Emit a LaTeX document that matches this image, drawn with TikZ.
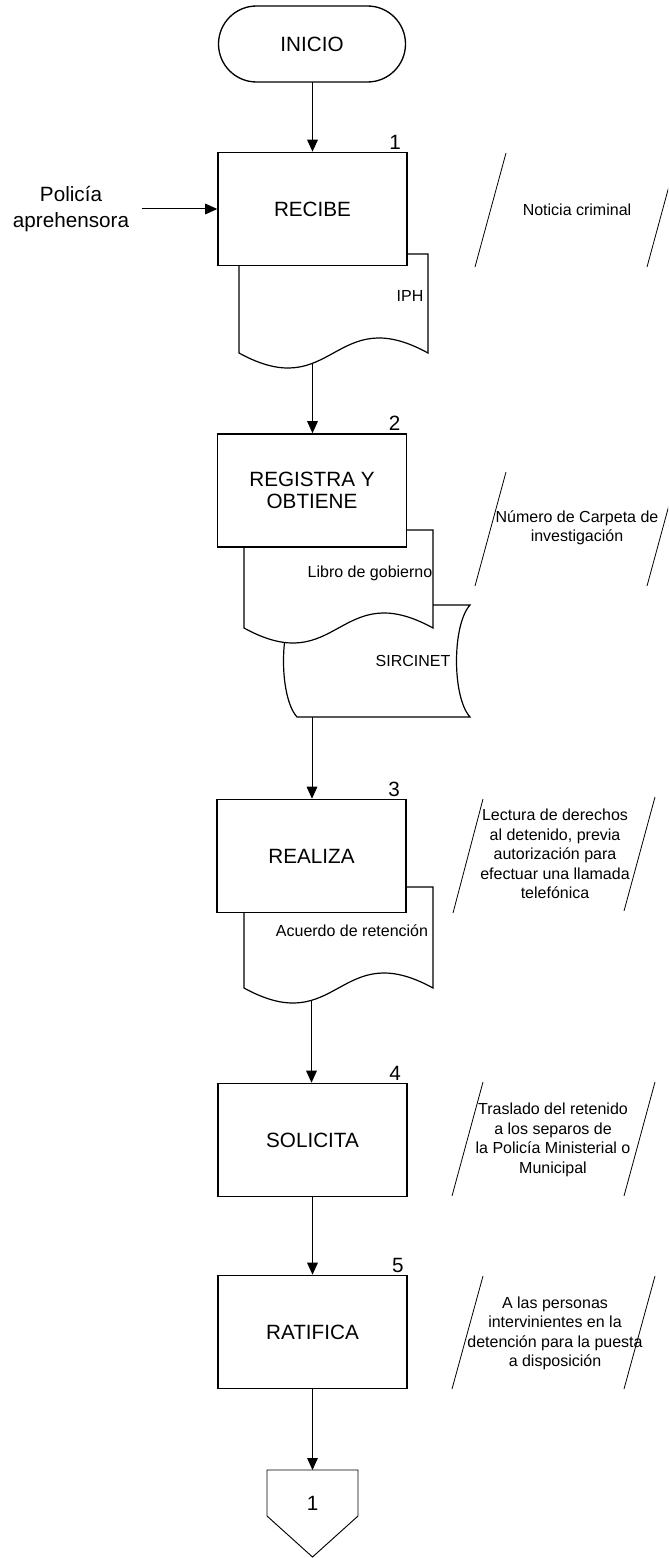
\documentclass[tikz,border=0pt]{standalone}
\usepackage{fontspec}
\setmainfont{Liberation Sans}
\usetikzlibrary{arrows.meta,backgrounds}
\newcommand{\docshape}[4]{%
  \path[docst] (#1,#4) -- (#1,#2) -- (#3,#2) -- (#3,#4)
    .. controls ({(#1+#3)/2},{#4-52}) and ({(#1+#3)/2},{#4+52}) .. (#1,#4) -- cycle;}
\begin{document}
\begin{tikzpicture}[x=0.75pt,y=-0.75pt,
  proc/.style={draw,line width=1.2pt,fill=white,minimum width=141.75pt,minimum height=84.75pt,inner sep=0pt,align=center,font=\fontsize{15.5}{16.5}\selectfont},
  term/.style={draw,line width=1pt,fill=white,rounded corners=28.5pt,minimum width=140.25pt,minimum height=57pt,font=\fontsize{15.5}{16.5}\selectfont},
  arr/.style={line width=0.75pt,-{Triangle[length=9pt,width=8pt]}},
  docst/.style={draw,line width=0.9pt,fill=white},
  small/.style={font=\fontsize{12}{14.6}\selectfont,align=center,inner sep=0pt},
  big/.style={font=\fontsize{15.5}{19}\selectfont,align=center},
  num/.style={font=\fontsize{15.5}{16.5}\selectfont,inner sep=0pt,anchor=base east},
  slant/.style={line width=0.6pt},
]
\useasboundingbox (0,0) rectangle (668,1558);
\clip (0,0) rectangle (668,1558);

% documents
\docshape{239}{254}{428}{353}
\path[docst] (297,605) -- (470,605) .. controls (452,625) and (452,697) .. (470,717)
  -- (297,717) .. controls (279,697) and (279,625) .. (297,605) -- cycle;
\docshape{244}{530}{433}{628}
\docshape{244}{887}{433}{988}

% terminal and process boxes
\node[term] (ini) at (312,44) {INICIO};
\node[proc] (b1) at (312.5,209) {RECIBE};
\node[proc] (b2) at (312,490.5) {REGISTRA Y\\OBTIENE};
\node[proc] (b3) at (311.5,856) {REALIZA};
\node[proc] (b4) at (312.5,1140) {SOLICITA};
\node[proc] (b5) at (312.5,1332) {RATIFICA};

\node[num] (n1) at ([xshift=-5pt,yshift=2pt]b1.north east) {1};
\node[num] (n2) at ([xshift=-5pt,yshift=2pt]b2.north east) {2};
\node[num] (n3) at ([xshift=-5pt,yshift=2pt]b3.north east) {3};
\node[num] (n4) at ([xshift=-5pt,yshift=2pt]b4.north east) {4};
\node[num] (n5) at ([xshift=-3pt,yshift=2pt]b5.north east) {5};

% document labels
\node[small] (iph) at (410,296) {IPH};
\node[small] (libro) at (370,573) {Libro de gobierno};
\node[small] (sirc) at (413,661) {SIRCINET};
\node[small] (acu) at (352,931) {Acuerdo de retención};

% input
\node[big] (pol) at (71,209) {Policía\\aprehensora};

% off-page connector
\path[draw,line width=0.7pt,fill=white] (267,1470) -- (358,1470) -- (358,1516) -- (312.5,1557) -- (267,1516) -- cycle;
\coordinate (ctop) at (312.5,1470);
\node[big] (c1) at (312.5,1503) {1};

% side notes (slanted lines)
\draw[slant] (506,153) -- (475,267);
\draw[slant] (678,153) -- (647,267);
\node[small] (t1) at (577,210) {Noticia criminal};

\draw[slant] (506,472) -- (475,586);
\draw[slant] (678,472) -- (647,586);
\node[small] (t2) at (577,528) {Número de Carpeta de\\investigación};

\draw[slant] (483,799) -- (453,913);
\draw[slant] (655,797) -- (624,911);
\node[small] (t3) at (555,854) {Lectura de derechos\\al detenido, previa\\autorización para\\efectuar una llamada\\telefónica};

\draw[slant] (483,1082) -- (452,1196);
\draw[slant] (655,1082) -- (624,1196);
\node[small] (t4) at (553,1140) {Traslado del retenido\\a los separos de\\la Policía Ministerial o\\Municipal};

\draw[slant] (483,1276) -- (452,1389);
\draw[slant] (655,1276) -- (624,1389);
\node[small] (t5) at (555,1333.5) {A las personas\\intervinientes en la\\detención para la puesta\\a disposición};

% connectors
\begin{scope}[on background layer]
\draw[arr] (ini.south) -- (ini.south -| b1.north) -- (b1.north);
\draw[arr] ([xshift=6pt]pol.east) -- (b1.west);
\draw[arr] (b1.south) -- (b1.south |- b2.north);
\draw[arr] (b2.south) -- (b2.south |- b3.north);
\draw[arr] (b3.south) -- (b3.south |- b4.north);
\draw[arr] (b4.south) -- (b5.north);
\draw[arr] (b5.south) -- (ctop);
\end{scope}
\end{tikzpicture}
\end{document}
